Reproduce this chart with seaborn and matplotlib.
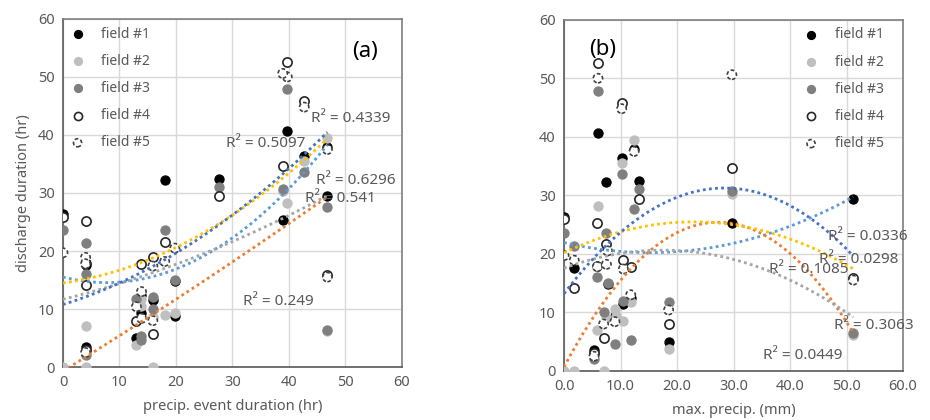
import numpy as np
import pandas as pd
import matplotlib
matplotlib.use("Agg")
import matplotlib.pyplot as plt
import seaborn as sns

# one entry per rain event; the five fields share the same events
event_duration = [0, 4, 4, 4, 13.9, 13.9, 13.0, 18.0, 27.7, 19.8, 39.7, 38.9, 42.7, 46.8, 46.8, 15.9, 15.9, 19.8]
event_max_precip = [0, 1.8, 5.9, 5.3, 11.8, 9.0, 18.5, 7.5, 13.2, 7.7, 6.0, 29.7, 10.2, 12.4, 51.2, 10.5, 7.0, 9.2]

# discharge duration (hr) per field, nan = no point
field1 = [26.3, 17.6, 18.0, 3.5, 12.4, 9.3, 5.0, 32.3, 32.4, 14.9, 40.7, 25.3, 36.4, 37.9, 29.4, 11.5, np.nan, 8.8]
field2 = [0, 0, 7.0, np.nan, 11.8, 10.5, 3.8, 9.0, np.nan, np.nan, 28.2, 30.3, 35.5, 39.4, 6.2, 8.6, 0, 9.3]
field3 = [23.6, 21.3, 16.0, 2.0, 5.3, 4.6, 11.8, 23.6, 31.0, 15.0, 47.9, 30.7, 33.6, 27.6, 6.4, 12.0, 10.0, np.nan]
field4 = [25.9, 14.2, 25.2, 3.0, 17.7, np.nan, 8.0, 21.6, 29.4, np.nan, 52.6, 34.7, 45.8, np.nan, 15.9, 18.9, 5.7, np.nan]
field5 = [19.7, 18.9, 17.8, 2.5, 13.0, 8.4, 10.4, 18.2, np.nan, 20.5, 50.0, 50.6, 44.8, 37.5, 15.5, 17.4, 8.0, np.nan]

field_names = ["field #1", "field #2", "field #3", "field #4", "field #5"]
# dotted trendline colour for each field
trend_colors = ["#5B9BD5", "#ED7D31", "#A5A5A5", "#FFC000", "#4472C4"]

# R² labels (text, x, y)
r2_text_a = ["R² = 0.5097", "R² = 0.4339", "R² = 0.6296", "R² = 0.541", "R² = 0.249"]
r2_x_a = [28.9, 43.9, 44.8, 42.9, 31.9]
r2_y_a = [38.6, 42.9, 32.2, 29.1, 11.3]
r2_text_b = ["R² = 0.0336", "R² = 0.0298", "R² = 0.1085", "R² = 0.3063", "R² = 0.0449"]
r2_x_b = [46.8, 45.2, 36.3, 47.7, 35.2]
r2_y_b = [23.0, 19.1, 17.3, 7.7, 2.7]

wide = pd.DataFrame({"duration": event_duration, "maxp": event_max_precip,
                     "field #1": field1, "field #2": field2, "field #3": field3,
                     "field #4": field4, "field #5": field5})
df = wide.melt(id_vars=["duration", "maxp"], var_name="field", value_name="discharge").dropna()

sns.set_theme(style="whitegrid")
plt.rcParams["font.family"] = ["Noto Sans", "DejaVu Sans"]

TXT = "#595959"
marker_styles = {
    "field #1": dict(facecolor="black", edgecolor="black", linewidth=0.8),
    "field #2": dict(facecolor="#bfbfbf", edgecolor="#bfbfbf", linewidth=0.8),
    "field #3": dict(facecolor="#7f7f7f", edgecolor="#7f7f7f", linewidth=0.8),
    "field #4": dict(facecolor="white", edgecolor="#262626", linewidth=1.2),
    "field #5": dict(facecolor="white", edgecolor="#404040", linewidth=1.2, linestyle=(0, (2.2, 1.4))),
}

fig = plt.figure(figsize=(9.3, 4.2), dpi=100)
ax_a = fig.add_axes([0.0677, 0.126, 0.3645, 0.829])
ax_b = fig.add_axes([0.6065, 0.117, 0.3645, 0.836])


def draw_panel(ax, xcol, xlabel, tickfmt, r2_text, r2_x, r2_y, panel, panel_xy, legend_loc, legend_anchor):
    handles = []
    for name in field_names:
        sub = df[df["field"] == name]
        handles.append(ax.scatter(sub[xcol], sub["discharge"], s=44, zorder=3, **marker_styles[name]))
    for name, col in zip(field_names, trend_colors):
        sub = df[df["field"] == name]
        sns.regplot(x=xcol, y="discharge", data=sub, ax=ax, order=2, ci=None, scatter=False,
                    truncate=True,
                    line_kws=dict(color=col, lw=2, linestyle=(0, (1, 1.2)), zorder=4))
    for t, x, y in zip(r2_text, r2_x, r2_y):
        ax.text(x, y, t, fontsize=11, color=TXT, va="center", ha="left", zorder=5)
    ax.text(panel_xy[0], panel_xy[1], panel, fontsize=16, color="black", ha="center", va="center")

    ax.set_xlim(0, 60)
    ax.set_ylim(0, 60)
    ax.set_xticks(range(0, 61, 10))
    ax.set_yticks(range(0, 61, 10))
    ax.set_xticklabels([tickfmt.format(v) for v in range(0, 61, 10)])
    ax.tick_params(axis="both", labelsize=10.5, labelcolor=TXT, length=0, pad=6)
    ax.grid(True, color="#d9d9d9", lw=1)
    ax.set_facecolor("white")
    for side, sp in ax.spines.items():
        sp.set_visible(True)
        sp.set_color("#7f7f7f" if side in ("top", "right") else "#595959")
        sp.set_linewidth(1.2)
    ax.set_xlabel(xlabel, fontsize=10.5, color=TXT, labelpad=6)
    ax.set_ylabel("")

    leg = ax.legend(handles, field_names, loc=legend_loc, bbox_to_anchor=legend_anchor,
                    frameon=False, fontsize=10, labelspacing=0.88, handlelength=1.0,
                    handletextpad=1.2, borderaxespad=0.15, scatterpoints=1)
    for h in leg.legend_handles:
        h.set_sizes([34])
    for t in leg.get_texts():
        t.set_color(TXT)


draw_panel(ax_a, "duration", "precip. event duration (hr)", "{:d}",
           r2_text_a, r2_x_a, r2_y_a, "(a)", (53.4, 54.4), "upper left", (0.0, 1.0))
ax_a.set_ylabel("discharge duration (hr)", fontsize=10.5, color=TXT, labelpad=5)
draw_panel(ax_b, "maxp", "max. precip. (mm)", "{:.1f}",
           r2_text_b, r2_x_b, r2_y_b, "(b)", (6.9, 55.0), "upper right", (0.965, 1.0))

fig.savefig("out.png", dpi=100)
